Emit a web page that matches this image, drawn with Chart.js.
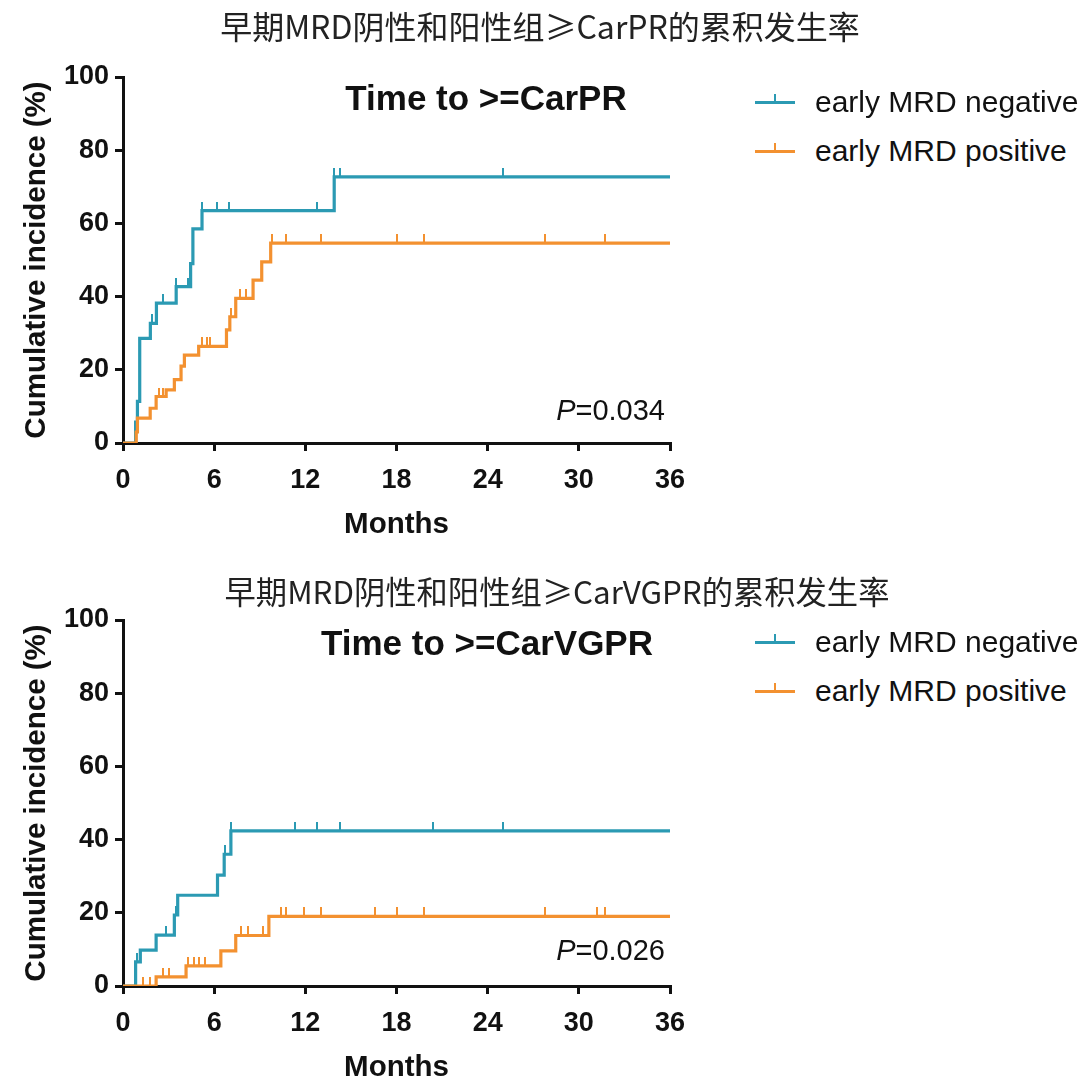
<!DOCTYPE html>
<html>
<head>
<meta charset="utf-8">
<script src="https://cdn.jsdelivr.net/npm/chart.js@4"></script>
<style>
  body { margin: 0; background: #fff; width: 1080px; height: 1084px; position: relative; overflow: hidden; }
  canvas { position: absolute; left: 0; }
  .txt { position: absolute; font-family: "Liberation Sans", Arial, sans-serif; color: #111; white-space: nowrap; }
  .cn { left: 0; width: 1080px; text-align: center; font-family: "Noto Sans CJK SC", sans-serif; font-size: 32px; line-height: 36px; color: #222; }
  .inner { width: 400px; text-align: center; font-weight: bold; font-size: 35px; line-height: 40px; }
  .pval { font-size: 29px; line-height: 34px; text-align: right; }
  .leg { font-size: 30px; line-height: 34px; left: 815px; }
  .mark { position: absolute; left: 755px; width: 40px; height: 3px; }
  .mark i { position: absolute; left: 19px; top: -7px; width: 2px; height: 8px; }
</style>
</head>
<body>
<canvas id="chartPR" width="700" height="560" style="top:0"></canvas>
<canvas id="chartVGPR" width="700" height="560" style="top:543px"></canvas>

<div class="txt cn" style="top:7px">早期MRD阴性和阳性组≥CarPR的累积发生率</div>
<div class="txt inner" style="left:286px;top:78px">Time to &gt;=CarPR</div>
<div class="txt pval" style="right:415px;top:393px"><i>P</i>=0.034</div>
<div class="mark" style="top:101px;background:#2b9ab3"><i style="background:#2b9ab3"></i></div>
<div class="txt leg" style="top:85px">early MRD negative</div>
<div class="mark" style="top:150px;background:#f39130"><i style="background:#f39130"></i></div>
<div class="txt leg" style="top:134px">early MRD positive</div>

<div class="txt cn" style="top:573px;left:17px;font-size:31.3px">早期MRD阴性和阳性组≥CarVGPR的累积发生率</div>
<div class="txt inner" style="left:287px;top:623px">Time to &gt;=CarVGPR</div>
<div class="txt pval" style="right:415px;top:933px"><i>P</i>=0.026</div>
<div class="mark" style="top:641px;background:#2b9ab3"><i style="background:#2b9ab3"></i></div>
<div class="txt leg" style="top:625px">early MRD negative</div>
<div class="mark" style="top:690px;background:#f39130"><i style="background:#f39130"></i></div>
<div class="txt leg" style="top:674px">early MRD positive</div>

<script>
// x ticks (months) and y ticks (%)
const monthTicks = [0, 6, 12, 18, 24, 30, 36];
const pctTicks = [0, 20, 40, 60, 80, 100];

// >=CarPR, early MRD negative
const negPrTime = [0, 0.83, 0.95, 1.1, 1.8, 2.2, 3.5, 4.45, 4.6, 5.2, 13.9, 36];
const negPrCum  = [0, 5.7, 11.4, 28.6, 32.7, 38.2, 42.7, 49, 58.5, 63.5, 72.7, 72.7];
const negPrCensor = [1.9, 2.6, 3.5, 4.3, 5.2, 6.2, 7.0, 12.8, 13.9, 14.3, 25.0];

// >=CarPR, early MRD positive
const posPrTime = [0, 0.87, 0.95, 1.79, 2.18, 2.84, 3.38, 3.82, 4.04, 4.98, 6.81, 7.03, 7.42, 8.56, 9.13, 9.72, 36];
const posPrCum  = [0, 3, 6.8, 9.5, 12.7, 14.5, 17.3, 21, 24, 26.4, 30.9, 34.5, 39.5, 44.5, 49.5, 54.6, 54.6];
const posPrCensor = [1.0, 2.4, 2.6, 5.2, 5.5, 5.7, 7.1, 7.7, 8.1, 9.8, 10.7, 13.0, 18.0, 19.8, 27.8, 31.7];

// >=CarVGPR, early MRD negative
const negVgTime = [0, 0.83, 1.14, 2.18, 3.38, 3.6, 6.22, 6.66, 7.1, 36];
const negVgCum  = [0, 6.6, 9.8, 13.9, 19.4, 24.8, 30.3, 36, 42.4, 42.4];
const negVgCensor = [0.9, 2.84, 3.5, 6.7, 7.1, 11.3, 12.8, 14.3, 20.4, 25.0];

// >=CarVGPR, early MRD positive
const posVgTime = [0, 2.18, 4.15, 6.44, 7.42, 9.6, 36];
const posVgCum  = [0, 2.5, 5.5, 9.6, 13.8, 19, 19];
const posVgCensor = [1.3, 1.8, 2.6, 3.05, 4.3, 4.7, 5.0, 5.4, 7.75, 8.2, 9.2, 10.4, 10.7, 11.9, 13.0, 16.6, 18.0, 19.8, 27.8, 31.2, 31.7];

const blue = '#2b9ab3';
const orange = '#f39130';

function toPoints(times, vals) {
    return times.map((t, i) => ({ x: t, y: vals[i] }));
}

// value of the step curve at time t (for placing censor marks)
function stepAt(times, vals, t) {
    let v = 0;
    for (let i = 0; i < times.length; i++) {
        if (times[i] <= t) v = vals[i];
    }
    return v;
}

function censorPoints(ctimes, times, vals) {
    return ctimes.map(t => ({ x: t, y: stepAt(times, vals, t) }));
}

// small upward tick used as point style
function makeTick(color) {
    const c = document.createElement('canvas');
    c.width = 2;
    c.height = 18;
    const g = c.getContext('2d');
    g.fillStyle = color;
    g.fillRect(0, 0, 2, 9);
    return c;
}

function makeChart(id, negT, negY, negC, posT, posY, posC) {
    const ctx = document.getElementById(id).getContext('2d');
    const tickFont = { family: 'Liberation Sans', size: 27, weight: 'bold' };
    const titleFont = { family: 'Liberation Sans', size: 29.5, weight: 'bold' };
    return new Chart(ctx, {
        type: 'line',
        data: {
            datasets: [
                { data: toPoints(posT, posY), stepped: true, borderColor: orange, borderWidth: 3.2, pointRadius: 0, fill: false },
                { data: toPoints(negT, negY), stepped: true, borderColor: blue, borderWidth: 3.2, pointRadius: 0, fill: false },
                { data: censorPoints(posC, posT, posY), showLine: false, pointStyle: makeTick(orange), pointRadius: 5 },
                { data: censorPoints(negC, negT, negY), showLine: false, pointStyle: makeTick(blue), pointRadius: 5 }
            ]
        },
        options: {
            responsive: false,
            animation: false,
            devicePixelRatio: 1,
            layout: { padding: { top: 77, left: 15, right: 30, bottom: 17 } },
            plugins: { legend: { display: false }, tooltip: { enabled: false } },
            scales: {
                x: {
                    type: 'linear',
                    min: 0,
                    max: 36,
                    afterBuildTicks: (s) => { s.ticks = monthTicks.map(v => ({ value: v })); },
                    afterFit: (s) => { s.height = 100; },
                    ticks: { font: tickFont, color: '#111', padding: 13 },
                    grid: { drawOnChartArea: false, tickLength: 8, tickWidth: 3, tickColor: '#111', lineWidth: 3 },
                    border: { color: '#111', width: 3 },
                    title: { display: true, text: 'Months', font: titleFont, color: '#111', padding: { top: 0, bottom: 0 } }
                },
                y: {
                    min: 0,
                    max: 100,
                    afterBuildTicks: (s) => { s.ticks = pctTicks.map(v => ({ value: v })); },
                    afterFit: (s) => { s.width = 108; },
                    ticks: { font: tickFont, color: '#111', padding: 6 },
                    grid: { drawOnChartArea: false, tickLength: 8, tickWidth: 3, tickColor: '#111', lineWidth: 3 },
                    border: { color: '#111', width: 3 },
                    title: { display: true, text: 'Cumulative incidence (%)', font: titleFont, color: '#111', padding: { top: 4, bottom: 4 } }
                }
            }
        }
    });
}

document.addEventListener('DOMContentLoaded', function() {
    makeChart('chartPR', negPrTime, negPrCum, negPrCensor, posPrTime, posPrCum, posPrCensor);
    makeChart('chartVGPR', negVgTime, negVgCum, negVgCensor, posVgTime, posVgCum, posVgCensor);
});
</script>
</body>
</html>
